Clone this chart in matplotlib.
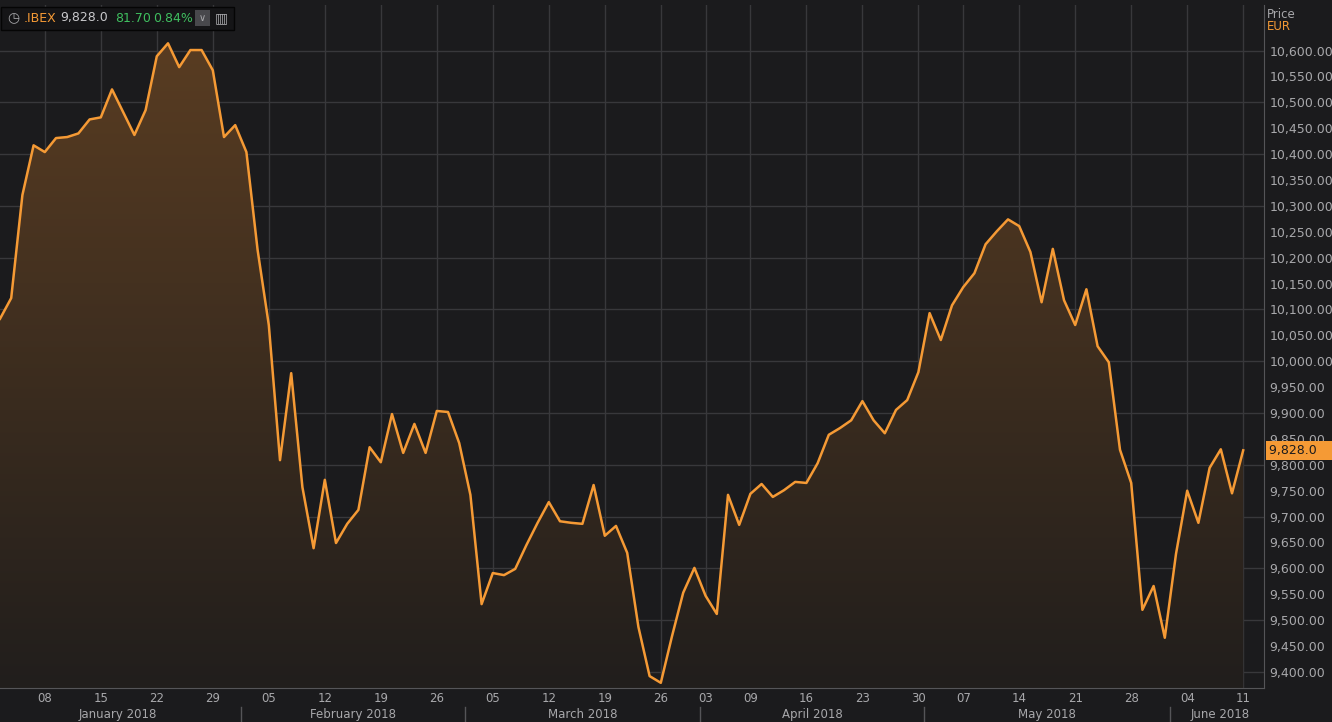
import numpy as np
import pandas as pd
import matplotlib
matplotlib.use("Agg")
import matplotlib.pyplot as plt
from matplotlib.patches import Polygon, Rectangle

# trading days (Spanish market holidays removed)
holidays = ["2018-03-30", "2018-04-02", "2018-05-01"]
dates = pd.bdate_range("2018-01-02", "2018-06-11")
dates = dates[~dates.isin(pd.to_datetime(holidays))]

close = [
    10082, 10122, 10321, 10417, 10404, 10431, 10433, 10440, 10467, 10471,
    10525, 10481, 10437, 10485, 10589, 10614, 10568, 10601, 10601, 10562,
    10433, 10456, 10404, 10215, 10070, 9809, 9977, 9757, 9639, 9771,
    9649, 9686, 9713, 9834, 9805, 9898, 9823, 9879, 9823, 9904,
    9902, 9842, 9742, 9531, 9591, 9587, 9599, 9645, 9688, 9728,
    9691, 9688, 9686, 9761, 9663, 9682, 9630, 9487, 9392, 9379,
    9469, 9553, 9601, 9547, 9512, 9742, 9684, 9744, 9763, 9738,
    9751, 9767, 9765, 9803, 9858, 9871, 9886, 9923, 9886, 9861,
    9906, 9925, 9979, 10093, 10041, 10108, 10143, 10170, 10226, 10251,
    10274, 10261, 10211, 10114, 10217, 10118, 10070, 10139, 10029, 9998,
    9829, 9765, 9520, 9566, 9466, 9628, 9750, 9688, 9794, 9830,
    9745, 9828,
]
n = min(len(dates), len(close))
dates = dates[:n]
close = np.array(close[:n], dtype=float)
x = np.arange(n)

yticks = np.arange(9400, 10601, 50)
ygrid = np.arange(9400, 10601, 100)
last_value = "9,828.0"
change = "81.70"
change_pct = "0.84%"

BG = "#1b1b1d"
GRID = "#38383b"
LINE = "#f59a35"
TXT = "#a8a8ab"

fig = plt.figure(figsize=(13.32, 7.22), dpi=100, facecolor=BG)
ax = fig.add_axes([0, 34 / 722, 1264 / 1332, 683 / 722], facecolor=BG)
ymin, ymax = 9369, 10688
xmax = 1264 / 11.2
ax.set_xlim(0, xmax)
ax.set_ylim(ymin, ymax)

# gradient fill under the line
grad = np.linspace(0, 1, 256).reshape(-1, 1)
img = ax.imshow(grad, extent=[0, xmax, ymin, ymax], origin="lower", aspect="auto",
                cmap=matplotlib.colors.LinearSegmentedColormap.from_list(
                    "g", ["#211e1c", "#5c3e22"]), zorder=1)
poly = Polygon(np.column_stack([np.r_[x, x[-1], x[0]], np.r_[close, ymin, ymin]]),
               closed=True, facecolor="none", edgecolor="none")
ax.add_patch(poly)
img.set_clip_path(poly)

ax.plot(x, close, color=LINE, lw=1.8, zorder=3)

# grid: one vertical line per week start
weeks = [i for i in range(1, n) if dates[i].weekday() < dates[i - 1].weekday()]
for i in weeks:
    ax.axvline(i, color=GRID, lw=1, zorder=0)
for v in ygrid:
    ax.axhline(v, color=GRID, lw=1, zorder=0)

ax.set_xticks(weeks)
ax.set_xticklabels([dates[i].strftime("%d") for i in weeks], color=TXT, fontsize=8.5)
ax.tick_params(axis="x", length=0, pad=3)
ax.yaxis.tick_right()
ax.set_yticks(yticks)
ax.set_yticklabels([f"{v:,.2f}" for v in yticks], color=TXT, fontsize=9)
ax.tick_params(axis="y", length=0, pad=4)
for s in ["top", "left"]:
    ax.spines[s].set_visible(False)
ax.spines["right"].set_color("#555558")
ax.spines["bottom"].set_color("#555558")

# month labels and separators
for m in range(1, 7):
    idx = [i for i, d in enumerate(dates) if d.month == m]
    first, last = idx[0], idx[-1]
    if m > 1:
        ax.plot([first - 0.5, first - 0.5], [-0.028, -0.05], transform=ax.get_xaxis_transform(),
                color="#555558", lw=1, clip_on=False)
    right = last if m < 6 else xmax
    ax.text((first + right) / 2, -0.039, f"{dates[first].strftime('%B')} 2018",
            transform=ax.get_xaxis_transform(), ha="center", va="center", color=TXT, fontsize=8.5)

# last value tag
ax.text(1.004, (close[-1] - ymin) / (ymax - ymin), last_value + "       ", transform=ax.transAxes,
        ha="left", va="center", color="#1b1b1d", fontsize=9,
        bbox=dict(boxstyle="square,pad=0.25", facecolor=LINE, edgecolor="none"))
fig.text(1267 / 1332, 1 - 14 / 722, "Price", color=TXT, fontsize=8.5, va="center")
fig.text(1267 / 1332, 1 - 26 / 722, "EUR", color=LINE, fontsize=8.5, va="center")

# header box
fig.patches.append(Rectangle((1 / 1332, 1 - 30 / 722), 233 / 1332, 23 / 722,
                   transform=fig.transFigure, facecolor="#151517", edgecolor="#050505"))
hy = 1 - 18 / 722
fig.text(7 / 1332, hy, "\u25f7", color=TXT, fontsize=10, va="center")
fig.text(24 / 1332, hy, ".IBEX", color=LINE, fontsize=9, va="center")
fig.text(60 / 1332, hy, last_value, color="#c8c8cb", fontsize=9, va="center")
fig.text(115 / 1332, hy, change, color="#3fbf5f", fontsize=9, va="center")
fig.text(153 / 1332, hy, change_pct, color="#3fbf5f", fontsize=9, va="center")
fig.patches.append(Rectangle((195 / 1332, 1 - 26 / 722), 15 / 1332, 16 / 722,
                   transform=fig.transFigure, facecolor="#48484c", edgecolor="none"))
fig.text(202.5 / 1332, hy, "\u2228", color=TXT, fontsize=7, va="center", ha="center")
fig.text(221 / 1332, hy, "\u25a5", color=TXT, fontsize=10, va="center", ha="center")

fig.savefig("out.png", dpi=100, facecolor=BG)
